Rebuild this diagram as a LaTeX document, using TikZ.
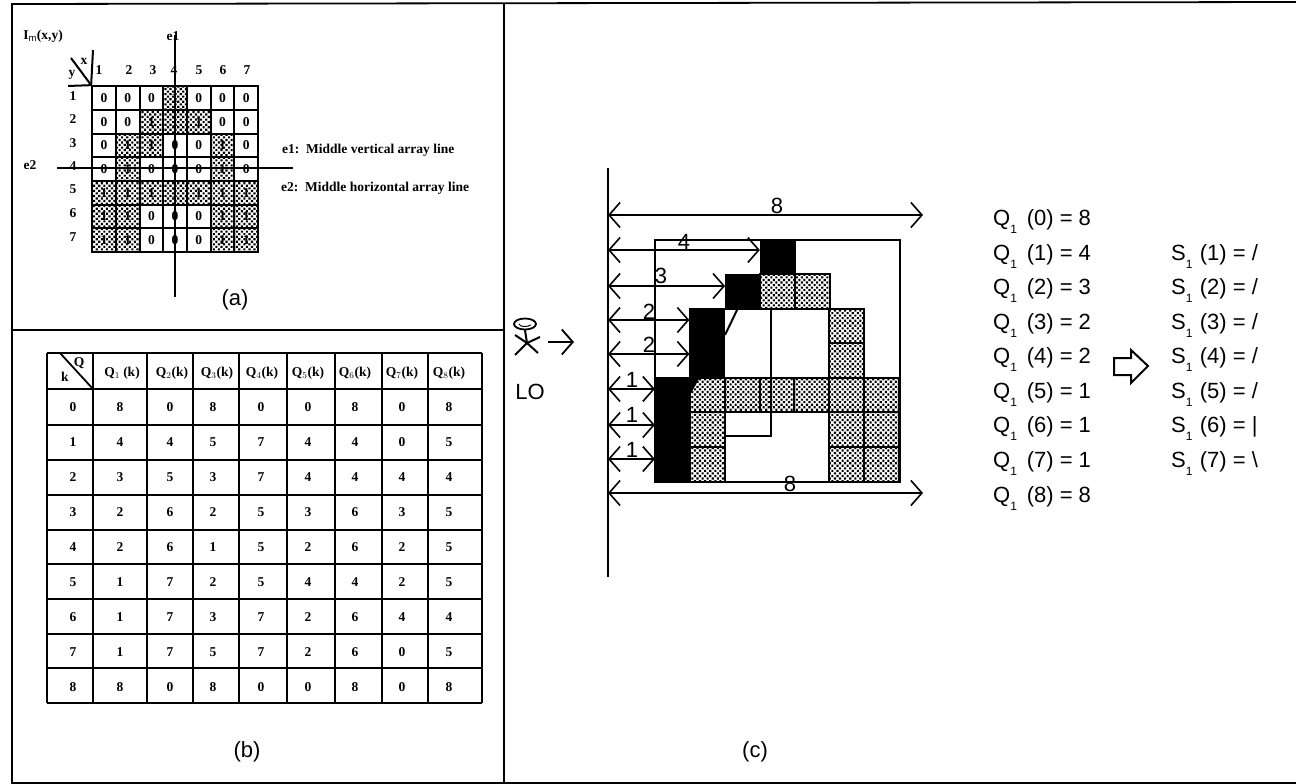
\documentclass[tikz,border=0pt]{standalone}
\usepackage{fontspec}
\setmainfont{Liberation Sans}
\newfontfamily\tabfont{Liberation Serif}
\usetikzlibrary{arrows.meta,patterns.meta}
\newcommand{\lowone}{\raisebox{-8pt}{\fontsize{12}{12}\selectfont 1}}
\begin{document}
\begin{tikzpicture}[x=1pt,y=-1pt,every node/.style={inner sep=0pt,font=\fontsize{22}{22}\selectfont}]
\tikzstyle{frameline}=[line width=1.8pt]
\tikzstyle{tabline}=[draw,line width=1.8pt]
\tikzstyle{thinline}=[draw,line width=2pt]
\tikzstyle{dots}=[pattern={Dots[radius=1.5pt,distance=3.6pt,angle=45]}]
\tikzstyle{serif}=[font=\tabfont\bfseries\fontsize{13.5}{13.5}\selectfont]
\tikzstyle{zero}=[serif,draw,line width=2pt,minimum size=23.7pt,node distance=23.7pt,fill=white]
\tikzstyle{one}=[serif,draw,line width=2pt,minimum size=23.7pt,node distance=23.7pt,dots]
\tikzstyle{cell}=[serif,node distance=47pt]
\tikzstyle{blackcell}=[draw,fill=black,minimum size=34.8pt,node distance=34.8pt]
\tikzstyle{graycell}=[draw,line width=2pt,dots,minimum size=34.8pt,node distance=34.8pt]
\tikzstyle{arrow}=[draw,line width=1.6pt,{Straight Barb[length=11pt,width=25pt]}-{Straight Barb[length=11pt,width=25pt]}]
\useasboundingbox (0,0) rectangle (1296,784);

\path[frameline,draw](1296,2)--(12,4)--(12,783)--(1296,783);
\path[frameline,draw](12,330)--(504,330);
\path[frameline,draw](504,3)--(504,783);

\node[serif](title) at (43,36){I$_{\mathrm{m}}$(x,y)};
\node[serif](e1) at (173,36){e1};
\node[serif](e2) at (30,165){e2};
\node[serif,anchor=west](e1text) at (282,150){e1:\ \ Middle vertical array line};
\node[serif,anchor=west](e2text) at (281,188){e2:\ \ Middle horizontal array line};
\node[serif](hx) at (84,61){x};
\node[serif](hy) at (72,75){y};

\node[serif](x1) at (99,70){1};
\node[serif,right of=x1,node distance=30pt](x2){2};
\node[serif,right of=x2,node distance=24pt](x3){3};
\node[serif,right of=x3,node distance=21pt](x4){4};
\node[serif,right of=x4,node distance=25pt](x5){5};
\node[serif,right of=x5,node distance=24pt](x6){6};
\node[serif,right of=x6,node distance=24pt](x7){7};

\node[serif](y1) at (73,96){1};
\node[serif,below of=y1,node distance=23pt](y2){2};
\node[serif,below of=y2,node distance=24pt](y3){3};
\node[serif,below of=y3,node distance=23pt](y4){4};
\node[serif,below of=y4,node distance=23pt](y5){5};
\node[serif,below of=y5,node distance=24pt](y6){6};
\node[serif,below of=y6,node distance=24pt](y7){7};

\node[zero](a11) at (104,98){0};
\node[zero,right of=a11](a12){0};
\node[zero,right of=a12](a13){0};
\node[one,right of=a13](a14){1};
\node[zero,right of=a14](a15){0};
\node[zero,right of=a15](a16){0};
\node[zero,right of=a16](a17){0};

\node[zero,below of=a11](a21){0};
\node[zero,right of=a21](a22){0};
\node[one,right of=a22](a23){1};
\node[one,right of=a23](a24){1};
\node[one,right of=a24](a25){1};
\node[zero,right of=a25](a26){0};
\node[zero,right of=a26](a27){0};

\node[zero,below of=a21](a31){0};
\node[one,right of=a31](a32){1};
\node[one,right of=a32](a33){1};
\node[zero,right of=a33](a34){0};
\node[zero,right of=a34](a35){0};
\node[one,right of=a35](a36){1};
\node[zero,right of=a36](a37){0};

\node[zero,below of=a31](a41){0};
\node[one,right of=a41](a42){1};
\node[zero,right of=a42](a43){0};
\node[zero,right of=a43](a44){0};
\node[zero,right of=a44](a45){0};
\node[one,right of=a45](a46){1};
\node[zero,right of=a46](a47){0};

\node[one,below of=a41](a51){1};
\node[one,right of=a51](a52){1};
\node[one,right of=a52](a53){1};
\node[one,right of=a53](a54){1};
\node[one,right of=a54](a55){1};
\node[one,right of=a55](a56){1};
\node[one,right of=a56](a57){1};

\node[one,below of=a51](a61){1};
\node[one,right of=a61](a62){1};
\node[zero,right of=a62](a63){0};
\node[zero,right of=a63](a64){0};
\node[zero,right of=a64](a65){0};
\node[one,right of=a65](a66){1};
\node[one,right of=a66](a67){1};

\node[one,below of=a61](a71){1};
\node[one,right of=a71](a72){1};
\node[zero,right of=a72](a73){0};
\node[zero,right of=a73](a74){0};
\node[zero,right of=a74](a75){0};
\node[one,right of=a75](a76){1};
\node[one,right of=a76](a77){1};

\path[thinline](175,35)--(175,297);
\path[thinline](57,168)--(293,168);
\path[thinline](93,50)--(a11.north west);
\path[thinline](68,86)--(a11.north west);
\path[thinline](71,58)--(a11.north west);
\node(la) at (235,300){(a)};

\path[tabline](47,353)--(482,353);
\path[tabline](47,389)--(482,389);
\path[tabline](47,425)--(482,425);
\path[tabline](47,460)--(482,460);
\path[tabline](47,495)--(482,495);
\path[tabline](47,530)--(482,530);
\path[tabline](47,564)--(482,564);
\path[tabline](47,599)--(482,599);
\path[tabline](47,634)--(482,634);
\path[tabline](47,668)--(482,668);
\path[tabline](47,703)--(482,703);
\path[tabline](47,353)--(47,703);
\path[tabline](93,353)--(93,703);
\path[tabline](147,353)--(147,703);
\path[tabline](193,353)--(193,703);
\path[tabline](239,353)--(239,703);
\path[tabline](287,353)--(287,703);
\path[tabline](335,353)--(335,703);
\path[tabline](382,353)--(382,703);
\path[tabline](428,353)--(428,703);
\path[tabline](482,353)--(482,703);
\path[tabline](60,353)--(93,389);
\node[serif](hk) at (65,377){k};
\node[serif](hq) at (79,363){Q};

\node[cell](h1) at (122,373){Q$_1$ (k)};
\node[cell,right of=h1,node distance=50pt](h2){Q$_2$(k)};
\node[cell,right of=h2,node distance=45pt](h3){Q$_3$(k)};
\node[cell,right of=h3,node distance=45pt](h4){Q$_4$(k)};
\node[cell,right of=h4,node distance=46pt](h5){Q$_5$(k)};
\node[cell,right of=h5](h6){Q$_6$(k)};
\node[cell,right of=h6](h7){Q$_7$(k)};
\node[cell,right of=h7](h8){Q$_8$(k)};

\node[cell](b00) at (73,407){0};
\node[cell,right of=b00](b01){8};
\node[cell,right of=b01,node distance=50pt](b02){0};
\node[cell,right of=b02,node distance=43pt](b03){8};
\node[cell,right of=b03,node distance=48pt](b04){0};
\node[cell,right of=b04](b05){0};
\node[cell,right of=b05](b06){8};
\node[cell,right of=b06](b07){0};
\node[cell,right of=b07](b08){8};

\node[cell,below of=b00,node distance=35pt](b10){1};
\node[cell,right of=b10](b11){4};
\node[cell,right of=b11,node distance=50pt](b12){4};
\node[cell,right of=b12,node distance=43pt](b13){5};
\node[cell,right of=b13,node distance=48pt](b14){7};
\node[cell,right of=b14](b15){4};
\node[cell,right of=b15](b16){4};
\node[cell,right of=b16](b17){0};
\node[cell,right of=b17](b18){5};

\node[cell,below of=b10,node distance=35pt](b20){2};
\node[cell,right of=b20](b21){3};
\node[cell,right of=b21,node distance=50pt](b22){5};
\node[cell,right of=b22,node distance=43pt](b23){3};
\node[cell,right of=b23,node distance=48pt](b24){7};
\node[cell,right of=b24](b25){4};
\node[cell,right of=b25](b26){4};
\node[cell,right of=b26](b27){4};
\node[cell,right of=b27](b28){4};

\node[cell,below of=b20,node distance=35pt](b30){3};
\node[cell,right of=b30](b31){2};
\node[cell,right of=b31,node distance=50pt](b32){6};
\node[cell,right of=b32,node distance=43pt](b33){2};
\node[cell,right of=b33,node distance=48pt](b34){5};
\node[cell,right of=b34](b35){3};
\node[cell,right of=b35](b36){6};
\node[cell,right of=b36](b37){3};
\node[cell,right of=b37](b38){5};

\node[cell,below of=b30,node distance=35pt](b40){4};
\node[cell,right of=b40](b41){2};
\node[cell,right of=b41,node distance=50pt](b42){6};
\node[cell,right of=b42,node distance=43pt](b43){1};
\node[cell,right of=b43,node distance=48pt](b44){5};
\node[cell,right of=b44](b45){2};
\node[cell,right of=b45](b46){6};
\node[cell,right of=b46](b47){2};
\node[cell,right of=b47](b48){5};

\node[cell,below of=b40,node distance=35pt](b50){5};
\node[cell,right of=b50](b51){1};
\node[cell,right of=b51,node distance=50pt](b52){7};
\node[cell,right of=b52,node distance=43pt](b53){2};
\node[cell,right of=b53,node distance=48pt](b54){5};
\node[cell,right of=b54](b55){4};
\node[cell,right of=b55](b56){4};
\node[cell,right of=b56](b57){2};
\node[cell,right of=b57](b58){5};

\node[cell,below of=b50,node distance=35pt](b60){6};
\node[cell,right of=b60](b61){1};
\node[cell,right of=b61,node distance=50pt](b62){7};
\node[cell,right of=b62,node distance=43pt](b63){3};
\node[cell,right of=b63,node distance=48pt](b64){7};
\node[cell,right of=b64](b65){2};
\node[cell,right of=b65](b66){6};
\node[cell,right of=b66](b67){4};
\node[cell,right of=b67](b68){4};

\node[cell,below of=b60,node distance=35pt](b70){7};
\node[cell,right of=b70](b71){1};
\node[cell,right of=b71,node distance=50pt](b72){7};
\node[cell,right of=b72,node distance=43pt](b73){5};
\node[cell,right of=b73,node distance=48pt](b74){7};
\node[cell,right of=b74](b75){2};
\node[cell,right of=b75](b76){6};
\node[cell,right of=b76](b77){0};
\node[cell,right of=b77](b78){5};

\node[cell,below of=b70,node distance=35pt](b80){8};
\node[cell,right of=b80](b81){8};
\node[cell,right of=b81,node distance=50pt](b82){0};
\node[cell,right of=b82,node distance=43pt](b83){8};
\node[cell,right of=b83,node distance=48pt](b84){0};
\node[cell,right of=b84](b85){0};
\node[cell,right of=b85](b86){8};
\node[cell,right of=b86](b87){0};
\node[cell,right of=b87](b88){8};
\node(lb) at (247,752){(b)};

\path[draw,line width=1.8pt](525,324) ellipse (11 and 5.5);
\path[draw,line width=1pt](519,324) arc (180:20:6 and 2.5);
\path[thinline](515,335)--(527,343)--(540,337);
\path[thinline](525,330)--(527,343);
\path[thinline](515,355)--(527,343)--(538,353);
\path[draw,line width=1.8pt,-{Straight Barb[length=11pt,width=25pt]}](548,342)--(574,342);
\node(lo) at (530,392){LO};

\path[frameline,draw](655,240) rectangle (900,482);
\node[blackcell](c14) at (777.5,257){};
\node[graycell,below of=c14](c24){};
\node[blackcell,left of=c24](c23){};
\node[graycell,right of=c24](c25){};
\node[blackcell](c32) at (707,326){};
\node[blackcell,below of=c32](c42){};
\node[graycell,right of=c32,node distance=139.2pt](c36){};
\node[graycell,below of=c36](c46){};
\node[blackcell](c51) at (672.5,395){};
\node[graycell,right of=c51](c52){};
\node[graycell,right of=c52](c53){};
\node[graycell,right of=c53](c54){};
\node[graycell,right of=c54](c55){};
\node[graycell,right of=c55](c56){};
\node[graycell,right of=c56](c57){};
\node[blackcell,below of=c51](c61){};
\node[graycell,right of=c61](c62){};
\node[graycell,right of=c62,node distance=139.2pt](c66){};
\node[graycell,right of=c66](c67){};
\node[blackcell,below of=c61](c71){};
\node[graycell,right of=c71](c72){};
\node[graycell,right of=c72,node distance=139.2pt](c76){};
\node[graycell,right of=c76](c77){};
\fill(690,377)--(700,377)--(690,395)--cycle;
\path[thinline](738,308)--(725,335);
\path[thinline](771,308)--(771,436)--(725,436);

\coordinate(axt) at (608,168);
\coordinate(axb) at (608,577);
\path[draw,line width=2pt](axt)--(axb);
\coordinate(r0) at (608,215);
\coordinate(r1) at (608,250);
\coordinate(r2) at (608,286);
\coordinate(r3) at (608,320);
\coordinate(r4) at (608,354);
\coordinate(r5) at (608,389);
\coordinate(r6) at (608,425);
\coordinate(r7) at (608,459);
\coordinate(r8) at (608,493);
\coordinate(e0) at (923,215);
\coordinate(e8) at (923,493);
\path[arrow](r0)--(e0);
\path[arrow](r1)--(c14.west|-r1);
\path[arrow](r2)--(c23.west|-r2);
\path[arrow](r3)--(c32.west|-r3);
\path[arrow](r4)--(c42.west|-r4);
\path[arrow](r5)--(c51.west|-r5);
\path[arrow](r6)--(c61.west|-r6);
\path[arrow](r7)--(c71.west|-r7);
\path[arrow](r8)--(e8);
\node(d0) at (777,206){8};
\node(d1) at (684,242){4};
\node(d2) at (661,276){3};
\node(d3) at (649,312){2};
\node(d4) at (649,345){2};
\node(d5) at (632,380){1};
\node(d6) at (632,415){1};
\node(d7) at (632,450){1};
\node(d8) at (790,484){8};

\node[anchor=base west](q0) at (993,225){Q\lowone\ \,(0) = 8};
\node[anchor=base west](q1) at (993,260){Q\lowone\ \,(1) = 4};
\node[anchor=base west](q2) at (993,294){Q\lowone\ \,(2) = 3};
\node[anchor=base west](q3) at (993,329){Q\lowone\ \,(3) = 2};
\node[anchor=base west](q4) at (993,363){Q\lowone\ \,(4) = 2};
\node[anchor=base west](q5) at (993,398){Q\lowone\ \,(5) = 1};
\node[anchor=base west](q6) at (993,432){Q\lowone\ \,(6) = 1};
\node[anchor=base west](q7) at (993,467){Q\lowone\ \,(7) = 1};
\node[anchor=base west](q8) at (993,502){Q\lowone\ \,(8) = 8};

\node[anchor=base west](s1) at (1171,260){S\lowone\,\,(1) = /};
\node[anchor=base west](s2) at (1171,294){S\lowone\,\,(2) = /};
\node[anchor=base west](s3) at (1171,329){S\lowone\,\,(3) = /};
\node[anchor=base west](s4) at (1171,363){S\lowone\,\,(4) = /};
\node[anchor=base west](s5) at (1171,398){S\lowone\,\,(5) = /};
\node[anchor=base west](s6) at (1171,432){S\lowone\,\,(6) = |};
\node[anchor=base west](s7) at (1171,467){S\lowone\,\,(7) = \textbackslash};

\path[draw,line width=2pt](1114,358)--(1131,358)--(1131,350)--(1148,366)--(1131,383)--(1131,375)--(1114,375)--cycle;
\node(lc) at (755,752){(c)};
\end{tikzpicture}
\end{document}
